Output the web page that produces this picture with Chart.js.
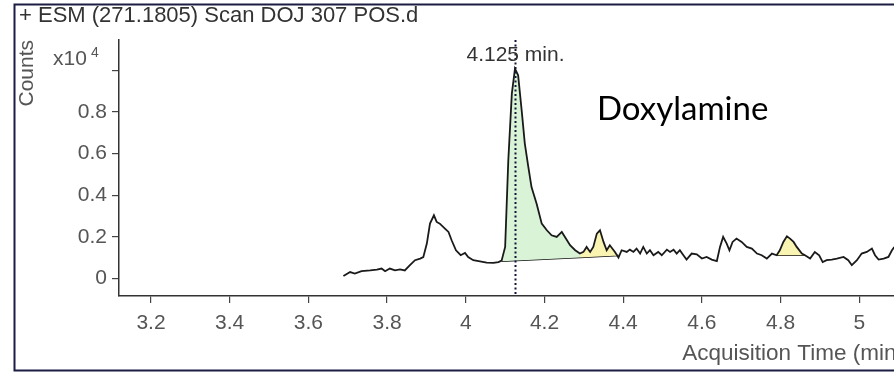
<!DOCTYPE html>
<html>
<head>
<meta charset="utf-8">
<script src="https://cdn.jsdelivr.net/npm/chart.js@4/dist/chart.umd.min.js"></script>
<style>
  html, body { margin: 0; padding: 0; background: #fff; overflow: hidden; }
  #wrap { position: absolute; left: 0; top: 0; width: 910px; height: 373px; }
</style>
</head>
<body>
<div id="wrap"><canvas id="chart"></canvas></div>
<script>
// EIC trace, time in minutes, intensity in units of 10^4 counts
const TIME = [
  3.689, 3.706, 3.718, 3.735, 3.757, 3.774, 3.786, 3.795, 3.807, 3.820,
  3.833, 3.845, 3.858, 3.871, 3.884, 3.892, 3.901, 3.909, 3.919, 3.926,
  3.934, 3.947, 3.956, 3.964, 3.975, 3.987, 3.998, 4.006, 4.019, 4.036,
  4.053, 4.070, 4.083, 4.091, 4.100, 4.108, 4.117, 4.125, 4.133, 4.142,
  4.150, 4.159, 4.167, 4.180, 4.193, 4.206, 4.218, 4.231, 4.244, 4.252,
  4.265, 4.278, 4.290, 4.299, 4.307, 4.316, 4.324, 4.333, 4.341, 4.350,
  4.358, 4.366, 4.379, 4.388, 4.396, 4.409, 4.417, 4.426, 4.434, 4.443,
  4.451, 4.460, 4.468, 4.477, 4.489, 4.498, 4.511, 4.519, 4.528, 4.536,
  4.544, 4.553, 4.561, 4.574, 4.587, 4.600, 4.612, 4.625, 4.638, 4.646,
  4.654, 4.663, 4.670, 4.678, 4.688, 4.701, 4.714, 4.727, 4.740, 4.752,
  4.765, 4.778, 4.790, 4.798, 4.807, 4.816, 4.824, 4.833, 4.841, 4.854,
  4.862, 4.875, 4.887, 4.898, 4.907, 4.917, 4.930, 4.943, 4.960, 4.972,
  4.981, 4.994, 5.006, 5.019, 5.032, 5.040, 5.049, 5.062, 5.074, 5.083,
  5.089
];
const COUNTS = [
  0.011, 0.030, 0.023, 0.035, 0.038, 0.042, 0.047, 0.034, 0.047, 0.038,
  0.043, 0.038, 0.063, 0.087, 0.095, 0.102, 0.167, 0.263, 0.303, 0.271,
  0.263, 0.239, 0.223, 0.183, 0.135, 0.111, 0.122, 0.102, 0.087, 0.082,
  0.075, 0.074, 0.078, 0.085, 0.151, 0.567, 0.888, 1.008, 0.976, 0.808,
  0.648, 0.535, 0.439, 0.359, 0.263, 0.231, 0.207, 0.199, 0.223, 0.199,
  0.159, 0.135, 0.119, 0.127, 0.151, 0.127, 0.151, 0.215, 0.231, 0.175,
  0.135, 0.159, 0.127, 0.100, 0.135, 0.127, 0.138, 0.127, 0.143, 0.119,
  0.151, 0.119, 0.135, 0.111, 0.127, 0.111, 0.138, 0.127, 0.138, 0.119,
  0.135, 0.111, 0.090, 0.119, 0.115, 0.095, 0.103, 0.090, 0.083, 0.151,
  0.199, 0.167, 0.135, 0.175, 0.191, 0.175, 0.151, 0.143, 0.119, 0.111,
  0.095, 0.119, 0.111, 0.135, 0.175, 0.202, 0.191, 0.175, 0.151, 0.119,
  0.111, 0.095, 0.127, 0.111, 0.078, 0.087, 0.090, 0.095, 0.103, 0.087,
  0.063, 0.087, 0.119, 0.127, 0.143, 0.111, 0.090, 0.095, 0.103, 0.135,
  0.151
];

// integrated peaks: [start, end] time and baseline level at each end
const PEAK_MAIN = [4.091, 4.290];
const PEAK_MAIN_BASE = [0.082, 0.100];
const PEAK_SMALL1 = [4.290, 4.388];
const PEAK_SMALL1_BASE = [0.100, 0.110];
const PEAK_SMALL2 = [4.790, 4.862];
const PEAK_SMALL2_BASE = [0.111, 0.111];

const RT_MARK = 4.125;
const X_TICKS = [3.2, 3.4, 3.6, 3.8, 4.0, 4.2, 4.4, 4.6, 4.8, 5.0];
const Y_TICKS = [0, 0.2, 0.4, 0.6, 0.8, 1.0];
const Y_TICK_LABELS = ['0', '0.2', '0.4', '0.6', '0.8', ''];

const FONT = '"Liberation Sans", Arial, sans-serif';
const trace = TIME.map((t, i) => ({ x: t, y: COUNTS[i] }));

function slicePeak(range) {
  const a = TIME.indexOf(range[0]);
  const b = TIME.indexOf(range[1]);
  return trace.slice(a, b + 1);
}
function baseline(range, base) {
  return [{ x: range[0], y: base[0] }, { x: range[1], y: base[1] }];
}

const GREEN = 'rgb(216, 243, 214)';
const YELLOW = 'rgb(249, 244, 178)';

// frame, title, multiplier, RT marker and compound label
const decorations = {
  id: 'decorations',
  beforeDraw(chart) {
    const ctx = chart.ctx;
    ctx.save();
    ctx.fillStyle = '#ffffff';
    ctx.fillRect(0, 0, chart.width, chart.height);
    ctx.strokeStyle = '#1d1d44';
    ctx.lineWidth = 2;
    ctx.beginPath();
    ctx.moveTo(chart.width + 5, 4.5);
    ctx.lineTo(14.5, 4.5);
    ctx.lineTo(14.5, 370.5);
    ctx.lineTo(chart.width + 5, 370.5);
    ctx.stroke();
    ctx.restore();
  },
  afterDatasetsDraw(chart) {
    const ctx = chart.ctx;
    const xs = chart.scales.x;
    const area = chart.chartArea;
    const px = Math.round(xs.getPixelForValue(RT_MARK)) + 0.5;
    ctx.save();
    ctx.strokeStyle = '#15153a';
    ctx.lineWidth = 2;
    ctx.setLineDash([2, 2.5]);
    ctx.beginPath();
    ctx.moveTo(px, area.top);
    ctx.lineTo(px, area.bottom);
    ctx.stroke();
    ctx.setLineDash([]);

    ctx.fillStyle = '#333';
    ctx.font = '21px ' + FONT;
    ctx.textAlign = 'center';
    ctx.textBaseline = 'alphabetic';
    ctx.fillText(RT_MARK.toFixed(3) + ' min.', px, 61);

    ctx.textAlign = 'left';
    ctx.fillStyle = '#333';
    ctx.font = '22px ' + FONT;
    ctx.fillText('+ ESM (271.1805) Scan DOJ 307 POS.d', 19, 22);

    ctx.fillStyle = '#555';
    ctx.font = '21px ' + FONT;
    ctx.fillText('x10', 53, 65);
    ctx.font = '14px ' + FONT;
    ctx.fillText('4', 91, 57);

    ctx.fillStyle = '#000';
    ctx.font = '33px Lato, "Open Sans", sans-serif';
    ctx.fillText('Doxylamine', 597, 120);
    ctx.restore();
  }
};

new Chart(document.getElementById('chart'), {
  type: 'line',
  data: {
    datasets: [
      { data: trace, borderColor: '#1a1a1a', borderWidth: 1.8, pointRadius: 0, fill: false, tension: 0 },
      { data: slicePeak(PEAK_MAIN), borderWidth: 0, pointRadius: 0, backgroundColor: GREEN, fill: 2 },
      { data: baseline(PEAK_MAIN, PEAK_MAIN_BASE), borderColor: '#111', borderWidth: 1.5, pointRadius: 0, fill: false },
      { data: slicePeak(PEAK_SMALL1), borderWidth: 0, pointRadius: 0, backgroundColor: YELLOW, fill: 4 },
      { data: baseline(PEAK_SMALL1, PEAK_SMALL1_BASE), borderColor: '#111', borderWidth: 1.5, pointRadius: 0, fill: false },
      { data: slicePeak(PEAK_SMALL2), borderWidth: 0, pointRadius: 0, backgroundColor: YELLOW, fill: 6 },
      { data: baseline(PEAK_SMALL2, PEAK_SMALL2_BASE), borderColor: '#111', borderWidth: 1.5, pointRadius: 0, fill: false }
    ]
  },
  options: {
    responsive: true,
    maintainAspectRatio: false,
    animation: false,
    layout: { padding: { left: 14, top: 40, right: 6, bottom: 3 } },
    scales: {
      x: {
        type: 'linear',
        min: 3.1187,
        max: 5.1136,
        afterFit: s => { s.height = 74; },
        afterBuildTicks: s => { s.ticks = X_TICKS.map(v => ({ value: v })); },
        border: { color: '#333', width: 1.5 },
        grid: { drawOnChartArea: false, drawTicks: true, tickLength: 7, color: '#444', lineWidth: 1.2 },
        ticks: {
          color: '#555', padding: 8, maxRotation: 0,
          font: { family: FONT, size: 21 },
          callback: v => String(Math.round(v * 10) / 10)
        },
        title: {
          display: true, text: 'Acquisition Time (min)', align: 'end',
          color: '#555', font: { family: FONT, size: 22.5 }, padding: { top: 0, bottom: 3 }
        }
      },
      y: {
        min: -0.085,
        max: 1.146,
        afterFit: s => { s.width = 105; },
        afterBuildTicks: s => { s.ticks = Y_TICKS.map(v => ({ value: v })); },
        border: { color: '#333', width: 1.5 },
        grid: { drawOnChartArea: false, drawTicks: true, tickLength: 7, color: '#444', lineWidth: 1.2 },
        ticks: {
          color: '#555', padding: 5,
          font: { family: FONT, size: 21 },
          callback: (v, i) => Y_TICK_LABELS[Y_TICKS.indexOf(Math.round(v * 10) / 10)]
        },
        title: {
          display: true, text: 'Counts', align: 'end',
          color: '#555', font: { family: FONT, size: 21 }, padding: { top: 1, bottom: 0 }
        }
      }
    },
    plugins: { legend: { display: false }, tooltip: { enabled: false } }
  },
  plugins: [decorations]
});
</script>
</body>
</html>
